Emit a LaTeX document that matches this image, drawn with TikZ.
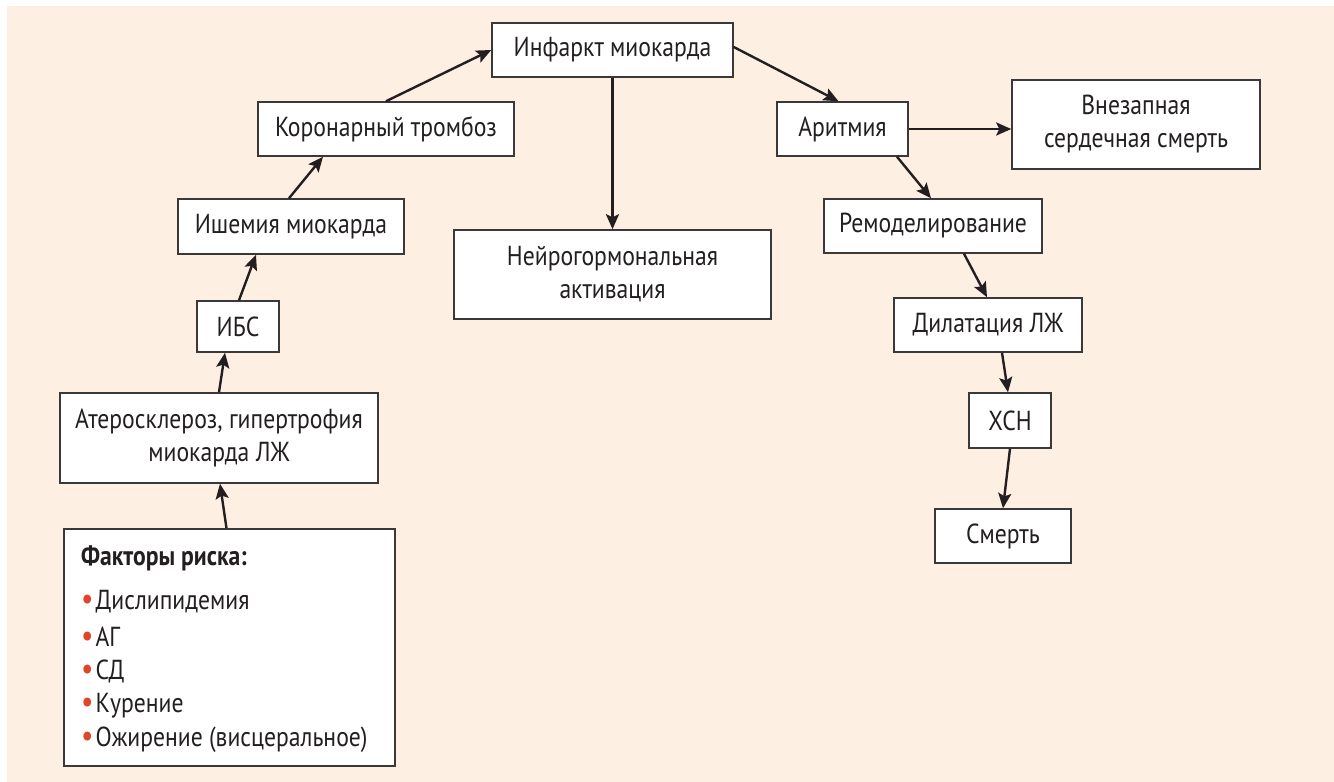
\documentclass[tikz,border=0pt]{standalone}
\usepackage{fontspec}
\setmainfont{PT Sans}[FakeStretch=0.86]
\usetikzlibrary{arrows.meta}
\definecolor{bgc}{HTML}{FDF0E2}
\definecolor{ink}{HTML}{231F20}
\definecolor{edge}{HTML}{3A3839}
\definecolor{bul}{HTML}{E0452A}
\newcommand{\redbul}{\textcolor{bul}{\fontsize{32}{32}\selectfont•}\hspace{2pt}}
\tikzset{
  box/.style={draw=edge, line width=1.5pt, fill=white, inner sep=0pt, align=center,
    text=ink, font=\fontsize{27.5}{33}\selectfont},
  arr/.style={draw=ink, line width=2.4pt, -{Stealth[length=15pt,width=13pt,inset=3pt]}},
  item/.style={anchor=west, inner sep=0pt, text=ink, font=\fontsize{27.5}{30}\selectfont}
}
\begin{document}
\begin{tikzpicture}[x=1pt,y=-1pt]
\useasboundingbox (0,0) rectangle (1334,782);
\fill[bgc] (7,6) rectangle (1334,782);
% nodes
\node[box, minimum width=241pt, minimum height=54pt] (inf) at (612.5,50) {Инфаркт миокарда};
\node[box, minimum width=256pt, minimum height=54pt] (kor) at (386,129) {Коронарный тромбоз};
\node[box, minimum width=226pt, minimum height=55pt] (ish) at (291,226.5) {Ишемия миокарда};
\node[box, minimum width=82pt, minimum height=51pt] (ibs) at (238,326.5) {ИБС};
\node[box, minimum width=318pt, minimum height=90pt] (ath) at (219,438) {Атеросклероз, гипертрофия\\миокарда ЛЖ};
\node[box, minimum width=331pt, minimum height=237pt] (fr) at (229.5,647.5) {};
\node[box, minimum width=317pt, minimum height=89pt] (neu) at (612.5,274.5) {Нейрогормональная\\активация};
\node[box, minimum width=131pt, minimum height=54pt] (ar) at (842.5,129) {Аритмия};
\node[box, minimum width=248pt, minimum height=89pt] (vsm) at (1136,124.5) {Внезапная\\сердечная смерть};
\node[box, minimum width=218pt, minimum height=54pt] (rem) at (933,226) {Ремоделирование};
\node[box, minimum width=188pt, minimum height=54pt] (dil) at (988,325) {Дилатация ЛЖ};
\node[box, minimum width=82pt, minimum height=55pt] (xsn) at (1010,420.5) {ХСН};
\node[box, minimum width=136pt, minimum height=54pt] (sm) at (1003,536) {Смерть};
% risk factors list
\node[item, font=\fontsize{27.5}{30}\selectfont\bfseries] (f0) at (81,558) {Факторы риска:};
\node[item] (f1) at (81,602) {\redbul Дислипидемия};
\node[item] (f2) at (81,636.5) {\redbul АГ};
\node[item] (f3) at (81,671) {\redbul СД};
\node[item] (f4) at (81,705.5) {\redbul Курение};
\node[item] (f5) at (81,740) {\redbul Ожирение (висцеральное)};
% connectors
\draw[arr] (kor.north) -- (inf.west);
\draw[arr] ([xshift=-2pt]ish.north) -- ([xshift=-63pt]kor.south);
\draw[arr] ([xshift=1pt]ibs.north) -- ([xshift=-35pt]ish.south);
\draw[arr] (ath.north) -- ([xshift=-13pt]ibs.south);
\draw[arr] ([xshift=-3pt]fr.north) -- ([xshift=1pt]ath.south);
\draw[arr] (inf.south) -- (neu.north);
\draw[arr] ([yshift=3pt]inf.east) -- ([xshift=-4pt]ar.north);
\draw[arr] (ar.east) -- (ar.east -| vsm.west);
\draw[arr] ([xshift=54.5pt]ar.south) -- ([xshift=-2pt]rem.north);
\draw[arr] ([xshift=31pt]rem.south) -- ([xshift=-1pt]dil.north);
\draw[arr] ([xshift=14pt]dil.south) -- ([xshift=-2pt]xsn.north);
\draw[arr] (xsn.south) -- (sm.north);
\end{tikzpicture}
\end{document}
